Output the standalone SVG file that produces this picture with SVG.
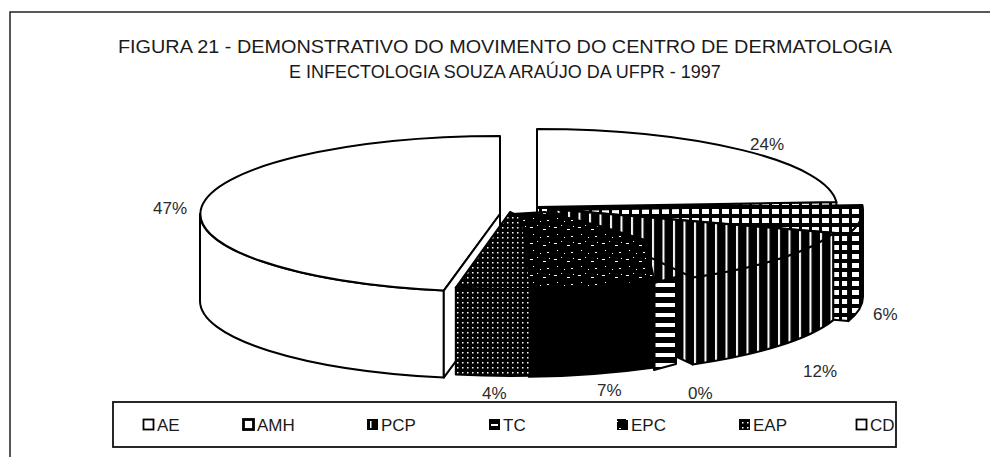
<svg xmlns="http://www.w3.org/2000/svg" width="990" height="457" viewBox="0 0 990 457">
<style>
text{font-family:"Liberation Sans",Arial,sans-serif;fill:#1a1a1a}
.t{font-size:18px}
.p{font-size:17px;fill:#2a2a2a}
.l{font-size:17px}
.e{stroke:#000;stroke-width:2;stroke-linejoin:round}
.w{fill:#fff}
</style>
<defs>
<pattern id="grid" patternUnits="userSpaceOnUse" width="10" height="9"><rect width="10" height="9" fill="#000"/><rect x="2" y="2" width="7" height="5" fill="#fff"/></pattern>
<pattern id="vst" patternUnits="userSpaceOnUse" width="10.5" height="10"><rect width="10.5" height="10" fill="#000"/><rect x="1" width="2" height="10" fill="#fff"/></pattern>
<pattern id="hst" patternUnits="userSpaceOnUse" width="20" height="10"><rect width="20" height="10" fill="#000"/><rect y="3" width="20" height="4" fill="#fff"/></pattern>
<pattern id="spk" patternUnits="userSpaceOnUse" width="24" height="16"><rect width="24" height="16" fill="#000"/><rect x="2" y="3" width="3" height="1" fill="#fff"/><rect x="9" y="1" width="1" height="1" fill="#fff"/><rect x="15" y="5" width="3" height="1" fill="#fff"/><rect x="5" y="10" width="1" height="1" fill="#fff"/><rect x="19" y="12" width="2" height="1" fill="#fff"/><rect x="12" y="13" width="1" height="1" fill="#fff"/><rect x="21" y="2" width="1" height="1" fill="#fff"/></pattern>
<pattern id="dot" patternUnits="userSpaceOnUse" width="5" height="5"><rect width="5" height="5" fill="#000"/><rect x="2" y="2" width="1.5" height="1.5" fill="#fff"/></pattern>
</defs>
<rect width="990" height="457" fill="#fff"/>
<g id="frame" fill="none" stroke="#222" stroke-width="1.5"><path d="M10,457 L10,12 L990,12"/></g>
<g id="title">
<text class="t" x="118" y="53" textLength="774" lengthAdjust="spacingAndGlyphs">FIGURA  21 -  DEMONSTRATIVO DO MOVIMENTO DO CENTRO DE DERMATOLOGIA</text>
<text class="t" x="505" y="78" text-anchor="middle">E INFECTOLOGIA SOUZA ARAÚJO DA UFPR - 1997</text>
</g>
<g id="slice-AE">
<path class="e" fill="url(#grid)" d="M537,207 L836.4,202.1 L836.4,289.1 L537,294 Z"/>
<path class="e w" d="M537,207 L836.4,202.1 A300,78 0 0,0 537,129 Z"/>
</g>
<g id="slice-CD">
<path class="e w" d="M200,214 A300,78 0 0,0 443.8,290.6 L443.8,377.6 A300,78 0 0,1 200,301 Z"/>
<path class="e w" d="M500,214 L500,136 A300,78 0 0,0 443.8,290.6 Z"/>
<path class="e w" d="M500,214 L443.8,290.6 L443.8,377.6 L500,301 Z"/>
</g>
<g id="slice-AMH">
<path class="e" fill="url(#grid)" d="M563,210 L848.3,234.1 L848.3,321.1 L563,297 Z"/>
<path class="e" fill="url(#grid)" d="M848.3,234.1 A300,78 0 0,0 863,210 L863,297 A300,78 0 0,1 848.3,321.1 Z"/>
<path class="e" fill="url(#grid)" d="M563,210 L848.3,234.1 A300,78 0 0,0 862.4,205.1 Z"/>
</g>
<g id="slice-PCP">
<path class="e" fill="url(#vst)" d="M548,209 L692.5,277.4 L692.5,364.4 L548,296 Z"/>
<path class="e" fill="url(#vst)" d="M692.5,277.4 A300,78 0 0,0 833.3,233.1 L833.3,320.1 A300,78 0 0,1 692.5,364.4 Z"/>
<path class="e" fill="url(#vst)" d="M548,209 L692.5,277.4 A300,78 0 0,0 833.3,233.1 Z"/>
</g>
<g id="slice-TC">
<path class="e" fill="url(#hst)" d="M654,283 L676,277 L676,364 L654,370 Z"/>
</g>
<g id="slice-EPC">
<path class="e" fill="#000" d="M528.8,289.8 A300,78 0 0,0 654.5,280.4 L654.5,367.4 A300,78 0 0,1 528.8,376.8 Z"/>
<path class="e" fill="url(#spk)" d="M512,214 L545,212 L600,226 L645,240 L654.5,280.4 A300,78 0 0,1 528.8,289.8 Z"/>
</g>
<g id="slice-EAP">
<path class="e" fill="url(#dot)" d="M455.8,287.6 A300,78 0 0,0 530.8,288.8 L530.8,375.8 A300,78 0 0,1 455.8,374.6 Z"/>
<path class="e" fill="url(#dot)" d="M510,212 L455.8,287.6 A300,78 0 0,0 530.8,288.8 L522,218 Z"/>
</g>
<g id="labels">
<text class="p" x="153" y="214">47%</text>
<text class="p" x="750" y="150">24%</text>
<text class="p" x="873" y="320">6%</text>
<text class="p" x="803" y="377">12%</text>
<text class="p" x="482" y="399">4%</text>
<text class="p" x="597" y="396">7%</text>
<text class="p" x="688" y="399">0%</text>
</g>
<g id="legend">
<rect x="113" y="402" width="783" height="45" fill="#fff" stroke="#111" stroke-width="1.8"/>
<rect x="143.5" y="419.5" width="10" height="10" fill="#fff" stroke="#000" stroke-width="1.8"/>
<text class="l" x="157" y="431">AE</text>
<rect x="243.5" y="419.5" width="10" height="10" fill="#fff" stroke="#000" stroke-width="2.8"/>
<text class="l" x="257" y="431">AMH</text>
<rect x="367" y="419" width="11" height="11" fill="#000"/><rect x="370" y="421" width="1.5" height="7" fill="#fff"/>
<text class="l" x="381" y="431">PCP</text>
<rect x="489" y="419" width="11" height="11" fill="#000"/><rect x="491" y="424" width="7" height="2" fill="#fff"/>
<text class="l" x="503" y="431">TC</text>
<rect x="617" y="419" width="11" height="11" fill="url(#spk)"/>
<text class="l" x="631" y="431">EPC</text>
<rect x="739" y="419" width="11" height="11" fill="url(#dot)"/>
<text class="l" x="753" y="431">EAP</text>
<rect x="856.5" y="419.5" width="10" height="10" fill="#fff" stroke="#000" stroke-width="1.8"/>
<text class="l" x="870" y="431">CD</text>
</g>
</svg>
